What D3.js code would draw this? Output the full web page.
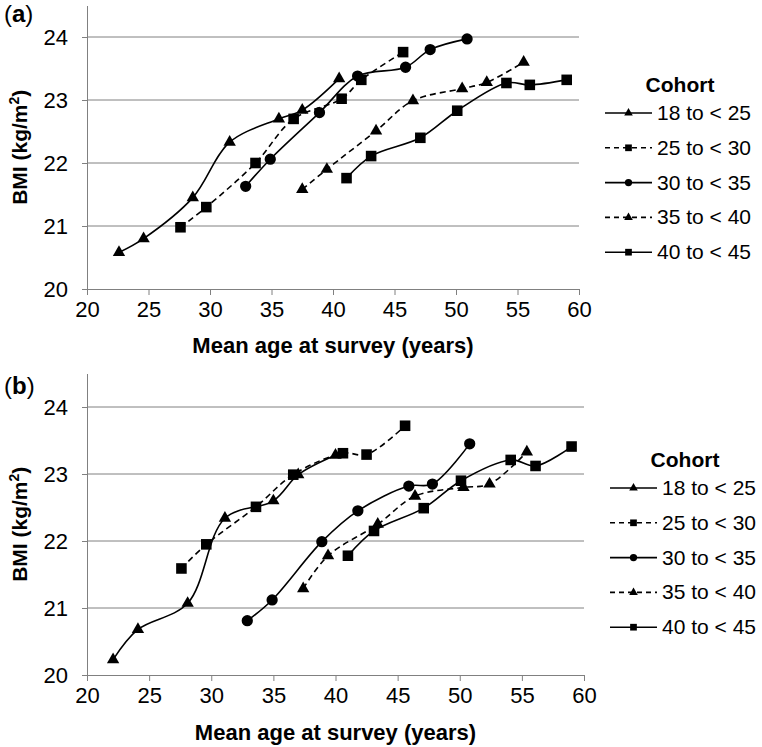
<!DOCTYPE html>
<html><head><meta charset="utf-8">
<script src="https://cdn.jsdelivr.net/npm/d3@7"></script>
<style>body{margin:0;background:#fff}svg{display:block;font-family:Arial,"Liberation Sans",sans-serif}</style>
</head><body>
<svg id="c" width="762" height="747"></svg>
<script>
const cohorts = ["18 to < 25","25 to < 30","30 to < 35","35 to < 40","40 to < 45"];
const dashed = [false,true,false,true,false];
const markers = ["triangle","square","circle","triangle","square"];
const xTicks = [20,25,30,35,40,45,50,55,60];
const yTicks = [20,21,22,23,24];

// Panel (a)
const agesA = [
  [22.6,24.6,28.6,31.6,35.6,37.5,40.5],
  [27.6,29.7,33.7,36.8,40.7,42.3,45.7],
  [32.9,34.9,38.9,42.0,45.9,47.9,50.9],
  [37.5,39.5,43.5,46.5,50.5,52.5,55.5],
  [41.1,43.1,47.1,50.1,54.1,56.0,59.0]
];
const bmiA = [
  [20.58,20.80,21.45,22.33,22.70,22.84,23.34],
  [20.98,21.30,22.00,22.70,23.02,23.32,23.76],
  [21.63,22.06,22.80,23.38,23.52,23.80,23.97],
  [21.58,21.90,22.51,22.99,23.18,23.28,23.60],
  [21.76,22.11,22.40,22.83,23.27,23.24,23.32]
];
// Panel (b)
const agesB = [
  [22.1,24.1,28.1,31.1,35.0,37.0,40.0],
  [27.6,29.6,33.6,36.6,40.6,42.5,45.6],
  [32.9,34.9,38.9,41.8,45.9,47.8,50.8],
  [37.4,39.4,43.4,46.4,50.3,52.4,55.4],
  [41.0,43.1,47.1,50.1,54.1,56.1,59.0]
];
const bmiB = [
  [20.23,20.68,21.07,22.34,22.60,22.99,23.28],
  [21.59,21.95,22.51,22.99,23.31,23.29,23.72],
  [20.81,21.12,21.99,22.45,22.82,22.85,23.45],
  [21.29,21.78,22.25,22.67,22.80,22.85,23.33],
  [21.78,22.15,22.49,22.90,23.21,23.12,23.41]
];

const svg = d3.select("#c");
const symType = {triangle:d3.symbolTriangle, square:d3.symbolSquare, circle:d3.symbolCircle};
const symSize = {triangle:66, square:112, circle:100};
const legSize = {triangle:32, square:45, circle:42};
const FF = "Arial, Liberation Sans, sans-serif";

function panel(o){
  const g = svg.append("g");
  const x = d3.scaleLinear().domain([20,60]).range([o.left,o.right]);
  const y = d3.scaleLinear().domain([20,24.5]).range([o.bottom,o.top]);
  const axisCol = "#808080";
  g.selectAll("line.grid").data(yTicks.filter(d=>d>20)).join("line")
    .attr("x1",o.left).attr("x2",o.right).attr("y1",d=>y(d)).attr("y2",d=>y(d))
    .attr("stroke",axisCol).attr("stroke-width",1);
  const ya = d3.axisLeft(y).tickValues(yTicks).tickFormat(d3.format("d")).tickSize(5).tickSizeOuter(0).tickPadding(14);
  const yg = g.append("g").attr("transform",`translate(${o.left},0)`).call(ya);
  yg.select(".domain").attr("stroke",axisCol);
  yg.selectAll(".tick line").attr("stroke",axisCol);
  yg.selectAll("text").attr("font-size",22).attr("fill","#000").attr("font-family",FF);
  const xa = d3.axisBottom(x).tickValues(xTicks).tickFormat(d3.format("d")).tickSize(6).tickSizeOuter(0).tickPadding(6);
  const xg = g.append("g").attr("transform",`translate(0,${o.bottom})`).call(xa);
  xg.select(".domain").attr("stroke",axisCol);
  xg.selectAll(".tick line").attr("stroke",axisCol);
  xg.selectAll("text").attr("font-size",22).attr("fill","#000").attr("font-family",FF);
  const line = d3.line().x(d=>x(d[0])).y(d=>y(d[1])).curve(d3.curveCatmullRom.alpha(0.5));
  cohorts.forEach((c,i)=>{
    const pts = o.ages[i].map((a,j)=>[a,o.bmi[i][j]]);
    g.append("path").attr("d",line(pts)).attr("fill","none").attr("stroke","#000")
      .attr("stroke-width",1.6).attr("stroke-dasharray",dashed[i]?"6,4":null);
    g.selectAll(null).data(pts).join("path")
      .attr("transform",d=>`translate(${x(d[0])},${y(d[1])})`)
      .attr("d",d3.symbol().type(symType[markers[i]]).size(symSize[markers[i]]))
      .attr("fill","#000");
  });
  g.append("text").attr("x",(o.left+o.right)/2).attr("y",o.xTitleY).attr("text-anchor","middle")
    .attr("font-size",22).attr("font-weight","bold").text("Mean age at survey (years)");
  const yt = g.append("text").attr("transform",`translate(27,${(o.top+o.bottom)/2}) rotate(-90)`)
    .attr("text-anchor","middle").attr("font-size",21).attr("font-weight","bold");
  yt.append("tspan").text("BMI (kg/m");
  yt.append("tspan").attr("font-size",14).attr("dy",-8).text("2");
  yt.append("tspan").attr("dy",8).text(")");
  const pl = g.append("text").attr("x",4).attr("y",o.labelY).attr("font-size",24);
  pl.append("tspan").text("(");
  pl.append("tspan").attr("font-weight","bold").text(o.label);
  pl.append("tspan").text(")");
  const lg = g.append("g");
  lg.append("text").attr("x",o.legX+75).attr("y",o.legTitleY).attr("text-anchor","middle")
    .attr("font-size",21).attr("font-weight","bold").text("Cohort");
  cohorts.forEach((c,i)=>{
    const cy = o.legY0 + i*o.legDy;
    lg.append("line").attr("x1",o.legX).attr("x2",o.legX+47).attr("y1",cy).attr("y2",cy)
      .attr("stroke","#000").attr("stroke-width",1.6).attr("stroke-dasharray",dashed[i]?"5,4":null);
    lg.append("path").attr("transform",`translate(${o.legX+23.5},${cy})`)
      .attr("d",d3.symbol().type(symType[markers[i]]).size(legSize[markers[i]])).attr("fill","#000");
    lg.append("text").attr("x",o.legX+52).attr("y",cy+7).attr("font-size",21).text(c);
  });
}

panel({left:87,right:579,top:5.5,bottom:289,ages:agesA,bmi:bmiA,xTitleY:353,label:"a",labelY:22,
  legX:605,legTitleY:92,legY0:113,legDy:34.8});
panel({left:87,right:584,top:373.5,bottom:675,ages:agesB,bmi:bmiB,xTitleY:740,label:"b",labelY:394,
  legX:610,legTitleY:467,legY0:488,legDy:34.8});
</script>
</body></html>
